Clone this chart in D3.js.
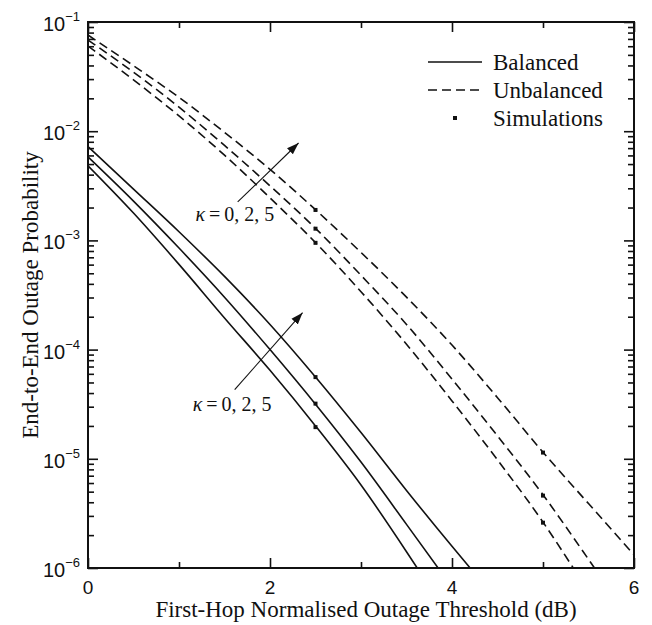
<!DOCTYPE html>
<html>
<head>
<meta charset="utf-8">
<script src="https://cdn.jsdelivr.net/npm/d3@7"></script>
<style>
  body { margin: 0; background: #fff; }
</style>
</head>
<body>
<div id="chart"></div>
<script>
// values
var xBal5 = [0, 0.5, 1, 1.5, 2, 2.5, 3, 3.5, 4, 4.25];
var pBal5 = [7.24e-3, 2.95e-3, 1.20e-3, 4.68e-4, 1.70e-4, 5.62e-5, 1.74e-5, 5.13e-6, 1.58e-6, 8.9e-7];
var xBal2 = [0, 0.5, 1, 1.5, 2, 2.5, 3, 3.5, 3.9];
var pBal2 = [5.82e-3, 2.29e-3, 8.51e-4, 3.02e-4, 1.0e-4, 3.16e-5, 9.33e-6, 2.51e-6, 8.7e-7];
var xBal0 = [0, 0.5, 1, 1.5, 2, 2.5, 3, 3.5, 3.65];
var pBal0 = [4.82e-3, 1.78e-3, 6.03e-4, 1.95e-4, 6.46e-5, 2.0e-5, 5.75e-6, 1.41e-6, 9.1e-7];

var xUnb5 = [0, 0.5, 1, 1.5, 2, 2.5, 3, 3.5, 4, 4.5, 5, 5.5, 6];
var pUnb5 = [7.59e-2, 3.98e-2, 2.04e-2, 9.77e-3, 4.47e-3, 1.91e-3, 7.76e-4, 3.02e-4, 1.10e-4, 3.63e-5, 1.15e-5, 3.89e-6, 1.32e-6];
var xUnb2 = [0, 0.5, 1, 1.5, 2, 2.5, 3, 3.5, 4, 4.5, 5, 5.5, 5.6];
var pUnb2 = [6.84e-2, 3.47e-2, 1.66e-2, 7.41e-3, 3.16e-3, 1.29e-3, 4.79e-4, 1.70e-4, 5.37e-5, 1.62e-5, 4.68e-6, 1.20e-6, 9.1e-7];
var xUnb0 = [0, 0.5, 1, 1.5, 2, 2.5, 3, 3.5, 4, 4.5, 5, 5.35];
var pUnb0 = [6.03e-2, 2.95e-2, 1.38e-2, 6.03e-3, 2.45e-3, 9.55e-4, 3.39e-4, 1.12e-4, 3.39e-5, 9.77e-6, 2.63e-6, 9.5e-7];

// simulation points
var simBalX = [2.5, 2.5, 2.5];
var simBalP = [5.6e-5, 3.2e-5, 1.95e-5];
var simUnbX = [2.5, 2.5, 2.5, 5, 5, 5];
var simUnbP = [1.9e-3, 1.28e-3, 9.5e-4, 1.14e-5, 4.6e-6, 2.6e-6];

var xTickLabels = [0, 2, 4, 6];
var yTickExp = [-1, -2, -3, -4, -5, -6];
var legendLabels = ["Balanced", "Unbalanced", "Simulations"];

var width = 652, height = 625;
var plotL = 88, plotR = 634, plotT = 22, plotB = 568;

var svg = d3.select("#chart").append("svg")
  .attr("width", width)
  .attr("height", height);

var x = d3.scaleLinear().domain([0, 6]).range([plotL, plotR]);
var y = d3.scaleLog().domain([1e-6, 1e-1]).range([plotB, plotT]);

var defs = svg.append("defs");
defs.append("clipPath").attr("id", "plotclip")
  .append("rect").attr("x", plotL).attr("y", plotT)
  .attr("width", plotR - plotL).attr("height", plotB - plotT);

defs.append("marker")
  .attr("id", "arrow")
  .attr("viewBox", "0 0 10 10")
  .attr("refX", 10).attr("refY", 5)
  .attr("markerWidth", 12).attr("markerHeight", 12)
  .attr("markerUnits", "userSpaceOnUse")
  .attr("orient", "auto")
  .append("path").attr("d", "M0,1.5 L10,5 L0,8.5 Z").attr("fill", "#111");

var line = d3.line()
  .x(function(d) { return x(d[0]); })
  .y(function(d) { return y(d[1]); })
  .curve(d3.curveMonotoneX);

var curves = [
  [xBal5, pBal5, false], [xBal2, pBal2, false], [xBal0, pBal0, false],
  [xUnb5, pUnb5, true], [xUnb2, pUnb2, true], [xUnb0, pUnb0, true]
];

var plot = svg.append("g").attr("clip-path", "url(#plotclip)");
curves.forEach(function(c) {
  plot.append("path")
    .datum(d3.zip(c[0], c[1]))
    .attr("d", line)
    .attr("fill", "none")
    .attr("stroke", "#111")
    .attr("stroke-width", 1.6)
    .attr("stroke-dasharray", c[2] ? "9,5" : null);
});

var sims = d3.zip(simBalX, simBalP).concat(d3.zip(simUnbX, simUnbP));
plot.selectAll(".sim")
  .data(sims)
  .enter().append("rect")
    .attr("class", "sim")
    .attr("x", function(d) { return x(d[0]) - 2; })
    .attr("y", function(d) { return y(d[1]) - 2; })
    .attr("width", 4).attr("height", 4)
    .attr("fill", "#111");

// axes: ticks pointing inwards on all four sides
var minorY = [];
for (var e = -6; e < -1; e++) {
  for (var m = 2; m <= 9; m++) minorY.push(m * Math.pow(10, e));
}
var majorY = yTickExp.map(function(k) { return Math.pow(10, k); });

function addAxis(axis, transform) {
  svg.append("g").attr("transform", transform).call(axis)
    .call(function(g) { g.select(".domain").remove(); })
    .selectAll("line").attr("stroke", "#111").attr("stroke-width", 1.6);
}
addAxis(d3.axisLeft(y).tickValues(majorY).tickSize(-10).tickFormat(""), "translate(" + plotL + ",0)");
addAxis(d3.axisLeft(y).tickValues(minorY).tickSize(-6).tickFormat(""), "translate(" + plotL + ",0)");
addAxis(d3.axisRight(y).tickValues(majorY).tickSize(-10).tickFormat(""), "translate(" + plotR + ",0)");
addAxis(d3.axisRight(y).tickValues(minorY).tickSize(-6).tickFormat(""), "translate(" + plotR + ",0)");
addAxis(d3.axisBottom(x).tickValues([0, 2, 4, 6]).tickSize(-10).tickFormat(""), "translate(0," + plotB + ")");
addAxis(d3.axisBottom(x).tickValues([1, 3, 5]).tickSize(-6).tickFormat(""), "translate(0," + plotB + ")");
addAxis(d3.axisTop(x).tickValues([0, 2, 4, 6]).tickSize(-10).tickFormat(""), "translate(0," + plotT + ")");
addAxis(d3.axisTop(x).tickValues([1, 3, 5]).tickSize(-6).tickFormat(""), "translate(0," + plotT + ")");

svg.append("rect")
  .attr("x", plotL).attr("y", plotT)
  .attr("width", plotR - plotL).attr("height", plotB - plotT)
  .attr("fill", "none").attr("stroke", "#111").attr("stroke-width", 2);

// tick labels
var sans = "'Liberation Sans', Arial, sans-serif";
var serif = "'Liberation Serif', 'Times New Roman', serif";

svg.selectAll(".xlab")
  .data(xTickLabels)
  .enter().append("text")
    .attr("x", function(d) { return x(d); })
    .attr("y", plotB + 26)
    .attr("text-anchor", "middle")
    .style("font-family", sans).style("font-size", "19px").style("fill", "#111")
    .text(function(d) { return d; });

var ylab = svg.selectAll(".ylab")
  .data(yTickExp)
  .enter().append("text")
    .attr("x", plotL - 8)
    .attr("y", function(d) { return y(Math.pow(10, d)) + 9; })
    .attr("text-anchor", "end")
    .style("font-family", sans).style("font-size", "20px").style("fill", "#111");
ylab.append("tspan").text("10");
ylab.append("tspan").attr("dy", -10).style("font-size", "13px")
  .text(function(d) { return "\u2212" + (-d); });

// axis titles
svg.append("text")
  .attr("x", (plotL + plotR) / 2 + 5).attr("y", 617)
  .attr("text-anchor", "middle")
  .style("font-family", serif).style("font-size", "23px").style("fill", "#111")
  .text("First-Hop Normalised Outage Threshold (dB)");

svg.append("text")
  .attr("transform", "translate(38," + ((plotT + plotB) / 2) + ") rotate(-90)")
  .attr("text-anchor", "middle")
  .style("font-family", serif).style("font-size", "23px").style("fill", "#111")
  .text("End-to-End Outage Probability");

// legend
var legend = svg.append("g");
legendLabels.forEach(function(lab, i) {
  var ly = 62 + i * 28;
  if (i < 2) {
    legend.append("line")
      .attr("x1", 428).attr("x2", 482).attr("y1", ly).attr("y2", ly)
      .attr("stroke", "#111").attr("stroke-width", 1.6)
      .attr("stroke-dasharray", i == 1 ? "9,5" : null);
  } else {
    legend.append("rect")
      .attr("x", 453).attr("y", ly - 2).attr("width", 4).attr("height", 4)
      .attr("fill", "#111");
  }
  legend.append("text")
    .attr("x", 493).attr("y", ly + 8)
    .style("font-family", serif).style("font-size", "23px").style("fill", "#111")
    .text(lab);
});

// kappa annotations
var notes = [
  { x0: 1.645, p0: 2.25e-3, x1: 2.314, p1: 7.8e-3, tx: 1.18, tp: 1.5e-3 },
  { x0: 1.612, p0: 4.3e-5, x1: 2.358, p1: 2.18e-4, tx: 1.15, tp: 2.75e-5 }
];
notes.forEach(function(n) {
  svg.append("line")
    .attr("x1", x(n.x0)).attr("y1", y(n.p0))
    .attr("x2", x(n.x1)).attr("y2", y(n.p1))
    .attr("stroke", "#111").attr("stroke-width", 1.1)
    .attr("marker-end", "url(#arrow)");
  var t = svg.append("text")
    .attr("x", x(n.tx)).attr("y", y(n.tp))
    .style("font-family", serif).style("font-size", "20px").style("fill", "#111");
  t.append("tspan").style("font-style", "italic").text("\u03ba");
  t.append("tspan").text("\u2009=\u20090, 2, 5");
});
</script>
</body>
</html>
